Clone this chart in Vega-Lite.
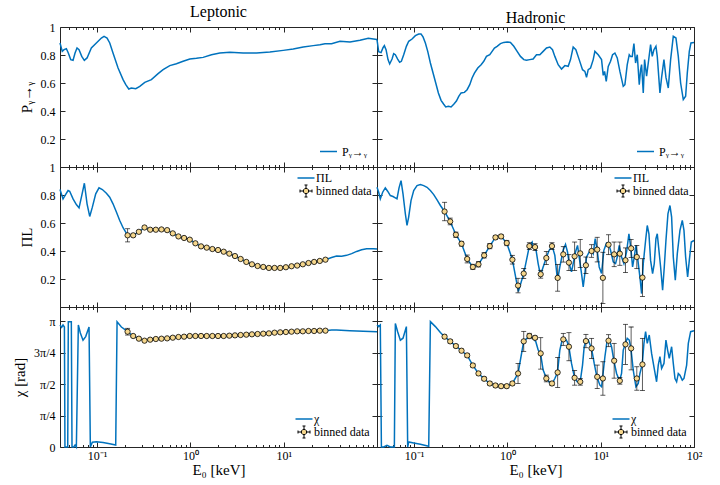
{
"$schema": "https://vega.github.io/schema/vega-lite/v6.json",
"background": "white",
"padding": {"left": 12, "top": 3, "right": 0, "bottom": 0},
"config": {
 "font": "Liberation Serif",
 "view": {"stroke": "#262626", "strokeWidth": 1},
 "axis": {"grid": false, "domain": false, "tickColor": "#262626", "tickWidth": 1, "labelColor": "black", "labelFontSize": 12, "titleFontSize": 15, "titleFontWeight": "normal", "titleColor": "black", "labelFlush": false, "labelOverlap": false},
 "legend": {"labelFontSize": 12, "labelColor": "black", "padding": 0, "rowPadding": -1, "symbolStrokeWidth": 1.5},
 "title": {"fontSize": 16, "fontWeight": "normal", "color": "black", "offset": 1}
},
"datasets": {
 "lineTL": [{"E":0.04,"v":0.886},{"E":0.0423,"v":0.826},{"E":0.0442,"v":0.838},{"E":0.0468,"v":0.845},{"E":0.0491,"v":0.814},{"E":0.0521,"v":0.767},{"E":0.0552,"v":0.762},{"E":0.058,"v":0.814},{"E":0.0609,"v":0.85},{"E":0.064,"v":0.838},{"E":0.0684,"v":0.79},{"E":0.0729,"v":0.762},{"E":0.078,"v":0.779},{"E":0.0867,"v":0.85},{"E":0.0981,"v":0.886},{"E":0.111,"v":0.921},{"E":0.1186,"v":0.933},{"E":0.1278,"v":0.921},{"E":0.1366,"v":0.886},{"E":0.148,"v":0.814},{"E":0.1677,"v":0.707},{"E":0.1897,"v":0.624},{"E":0.2028,"v":0.588},{"E":0.2184,"v":0.557},{"E":0.2328,"v":0.564},{"E":0.2596,"v":0.559},{"E":0.2866,"v":0.576},{"E":0.3242,"v":0.605},{"E":0.3816,"v":0.624},{"E":0.4504,"v":0.667},{"E":0.5096,"v":0.695},{"E":0.601,"v":0.724},{"E":0.708,"v":0.738},{"E":0.835,"v":0.755},{"E":0.986,"v":0.771},{"E":1.16,"v":0.776},{"E":1.369,"v":0.783},{"E":1.681,"v":0.802},{"E":2.068,"v":0.814},{"E":2.648,"v":0.819},{"E":3.677,"v":0.814},{"E":5.108,"v":0.814},{"E":7.112,"v":0.821},{"E":9.88,"v":0.833},{"E":12.65,"v":0.843},{"E":16.19,"v":0.857},{"E":20.73,"v":0.867},{"E":24.47,"v":0.874},{"E":27.68,"v":0.881},{"E":32.58,"v":0.881},{"E":40.1,"v":0.898},{"E":51.34,"v":0.893},{"E":65.7,"v":0.905},{"E":80.7,"v":0.919},{"E":100,"v":0.91}],
 "lineTR": [{"E":0.04,"v":0.91},{"E":0.0417,"v":0.824},{"E":0.0442,"v":0.817},{"E":0.0464,"v":0.852},{"E":0.048,"v":0.867},{"E":0.05,"v":0.838},{"E":0.0525,"v":0.767},{"E":0.0547,"v":0.736},{"E":0.058,"v":0.771},{"E":0.0604,"v":0.81},{"E":0.0629,"v":0.802},{"E":0.0666,"v":0.771},{"E":0.07,"v":0.748},{"E":0.073,"v":0.755},{"E":0.0773,"v":0.802},{"E":0.0826,"v":0.862},{"E":0.0875,"v":0.898},{"E":0.095,"v":0.914},{"E":0.1031,"v":0.938},{"E":0.112,"v":0.95},{"E":0.1186,"v":0.95},{"E":0.1246,"v":0.929},{"E":0.132,"v":0.886},{"E":0.1399,"v":0.826},{"E":0.1494,"v":0.743},{"E":0.1596,"v":0.671},{"E":0.1705,"v":0.6},{"E":0.182,"v":0.529},{"E":0.1944,"v":0.476},{"E":0.2077,"v":0.448},{"E":0.2182,"v":0.429},{"E":0.233,"v":0.433},{"E":0.2489,"v":0.429},{"E":0.2658,"v":0.448},{"E":0.284,"v":0.471},{"E":0.3008,"v":0.505},{"E":0.3186,"v":0.529},{"E":0.346,"v":0.533},{"E":0.3697,"v":0.552},{"E":0.3948,"v":0.588},{"E":0.418,"v":0.636},{"E":0.4429,"v":0.671},{"E":0.481,"v":0.707},{"E":0.5225,"v":0.731},{"E":0.558,"v":0.755},{"E":0.596,"v":0.79},{"E":0.647,"v":0.802},{"E":0.6855,"v":0.826},{"E":0.726,"v":0.85},{"E":0.7757,"v":0.862},{"E":0.842,"v":0.881},{"E":0.914,"v":0.89},{"E":0.993,"v":0.893},{"E":1.078,"v":0.89},{"E":1.171,"v":0.862},{"E":1.271,"v":0.826},{"E":1.38,"v":0.79},{"E":1.499,"v":0.767},{"E":1.601,"v":0.762},{"E":1.738,"v":0.767},{"E":1.887,"v":0.771},{"E":2.049,"v":0.802},{"E":2.226,"v":0.802},{"E":2.416,"v":0.826},{"E":2.624,"v":0.85},{"E":2.849,"v":0.857},{"E":3.043,"v":0.838},{"E":3.224,"v":0.79},{"E":3.5,"v":0.731},{"E":3.801,"v":0.7},{"E":4.127,"v":0.724},{"E":4.481,"v":0.719},{"E":4.747,"v":0.767},{"E":5.07,"v":0.857},{"E":5.415,"v":0.838},{"E":5.881,"v":0.767},{"E":6.384,"v":0.695},{"E":6.764,"v":0.683},{"E":7.047,"v":0.64},{"E":7.344,"v":0.695},{"E":7.78,"v":0.707},{"E":8.311,"v":0.767},{"E":8.661,"v":0.826},{"E":9.401,"v":0.802},{"E":10.21,"v":0.767},{"E":10.64,"v":0.655},{"E":11.0,"v":0.683},{"E":11.46,"v":0.612},{"E":12.04,"v":0.719},{"E":12.75,"v":0.755},{"E":13.4,"v":0.802},{"E":14.2,"v":0.814},{"E":15.04,"v":0.779},{"E":16.06,"v":0.683},{"E":17.44,"v":0.576},{"E":18.17,"v":0.588},{"E":19.25,"v":0.731},{"E":20.23,"v":0.802},{"E":20.9,"v":0.79},{"E":21.78,"v":0.79},{"E":22.7,"v":0.881},{"E":23.65,"v":0.743},{"E":24.65,"v":0.802},{"E":25.9,"v":0.588},{"E":26.77,"v":0.695},{"E":27.43,"v":0.731},{"E":28.59,"v":0.529},{"E":29.54,"v":0.767},{"E":31.03,"v":0.648},{"E":32.34,"v":0.743},{"E":34.25,"v":0.874},{"E":35.69,"v":0.79},{"E":37.2,"v":0.838},{"E":39.08,"v":0.862},{"E":40.39,"v":0.79},{"E":43.14,"v":0.529},{"E":44.96,"v":0.64},{"E":47.63,"v":0.767},{"E":50.04,"v":0.64},{"E":53.01,"v":0.564},{"E":56.15,"v":0.767},{"E":59.98,"v":0.933},{"E":64.07,"v":0.921},{"E":67.86,"v":0.79},{"E":71.88,"v":0.6},{"E":76.78,"v":0.481},{"E":81.33,"v":0.505},{"E":84.75,"v":0.671},{"E":89.04,"v":0.826},{"E":92.79,"v":0.886},{"E":100,"v":0.89}],
 "lineML": [{"E":0.04,"v":0.839},{"E":0.0431,"v":0.772},{"E":0.0452,"v":0.796},{"E":0.0488,"v":0.832},{"E":0.0508,"v":0.827},{"E":0.0552,"v":0.772},{"E":0.0599,"v":0.732},{"E":0.064,"v":0.708},{"E":0.0684,"v":0.796},{"E":0.073,"v":0.884},{"E":0.078,"v":0.737},{"E":0.0833,"v":0.647},{"E":0.0889,"v":0.713},{"E":0.0966,"v":0.808},{"E":0.1048,"v":0.851},{"E":0.1138,"v":0.839},{"E":0.1257,"v":0.813},{"E":0.1364,"v":0.784},{"E":0.148,"v":0.737},{"E":0.1609,"v":0.678},{"E":0.1747,"v":0.618},{"E":0.1897,"v":0.566},{"E":0.2026,"v":0.535},{"E":0.212,"v":0.512},{"E":0.2436,"v":0.512},{"E":0.2803,"v":0.537},{"E":0.3222,"v":0.568},{"E":0.3704,"v":0.552},{"E":0.4259,"v":0.552},{"E":0.4896,"v":0.554},{"E":0.5629,"v":0.549},{"E":0.6473,"v":0.526},{"E":0.7441,"v":0.504},{"E":0.8555,"v":0.493},{"E":0.9838,"v":0.481},{"E":1.131,"v":0.455},{"E":1.3,"v":0.433},{"E":1.495,"v":0.424},{"E":1.719,"v":0.414},{"E":1.977,"v":0.407},{"E":2.273,"v":0.395},{"E":2.613,"v":0.381},{"E":3.004,"v":0.364},{"E":3.454,"v":0.343},{"E":3.972,"v":0.322},{"E":4.566,"v":0.305},{"E":5.25,"v":0.293},{"E":6.036,"v":0.286},{"E":6.94,"v":0.279},{"E":7.979,"v":0.279},{"E":9.174,"v":0.279},{"E":10.55,"v":0.284},{"E":12.13,"v":0.291},{"E":13.94,"v":0.296},{"E":16.03,"v":0.305},{"E":18.43,"v":0.314},{"E":21.19,"v":0.322},{"E":24.37,"v":0.329},{"E":28.02,"v":0.338},{"E":32.6,"v":0.353},{"E":36.9,"v":0.364},{"E":41.8,"v":0.362},{"E":47.2,"v":0.369},{"E":53.5,"v":0.381},{"E":60.5,"v":0.397},{"E":68.4,"v":0.409},{"E":77.4,"v":0.416},{"E":91.3,"v":0.416},{"E":100,"v":0.414}],
 "lineMR": [{"E":0.04,"v":0.855},{"E":0.0417,"v":0.82},{"E":0.0434,"v":0.772},{"E":0.046,"v":0.82},{"E":0.0491,"v":0.851},{"E":0.052,"v":0.827},{"E":0.0556,"v":0.796},{"E":0.0594,"v":0.789},{"E":0.0629,"v":0.779},{"E":0.0655,"v":0.772},{"E":0.0689,"v":0.851},{"E":0.0724,"v":0.903},{"E":0.076,"v":0.808},{"E":0.0805,"v":0.666},{"E":0.0839,"v":0.583},{"E":0.0874,"v":0.642},{"E":0.0926,"v":0.76},{"E":0.099,"v":0.832},{"E":0.1074,"v":0.867},{"E":0.1167,"v":0.874},{"E":0.1267,"v":0.867},{"E":0.1375,"v":0.855},{"E":0.1493,"v":0.832},{"E":0.1622,"v":0.803},{"E":0.1761,"v":0.765},{"E":0.1912,"v":0.725},{"E":0.212,"v":0.682},{"E":0.2436,"v":0.611},{"E":0.2803,"v":0.516},{"E":0.3222,"v":0.452},{"E":0.3704,"v":0.343},{"E":0.4259,"v":0.286},{"E":0.4896,"v":0.305},{"E":0.5629,"v":0.369},{"E":0.6473,"v":0.435},{"E":0.7441,"v":0.497},{"E":0.8555,"v":0.504},{"E":0.9838,"v":0.457},{"E":1.131,"v":0.338},{"E":1.31,"v":0.11},{"E":1.495,"v":0.239},{"E":1.719,"v":0.435},{"E":1.841,"v":0.464},{"E":1.887,"v":0.428},{"E":2.016,"v":0.417},{"E":2.135,"v":0.31},{"E":2.262,"v":0.227},{"E":2.416,"v":0.286},{"E":2.624,"v":0.357},{"E":2.803,"v":0.405},{"E":3.018,"v":0.435},{"E":3.224,"v":0.369},{"E":3.443,"v":0.191},{"E":3.647,"v":0.286},{"E":3.96,"v":0.405},{"E":4.195,"v":0.447},{"E":4.408,"v":0.393},{"E":4.593,"v":0.31},{"E":4.866,"v":0.251},{"E":5.07,"v":0.31},{"E":5.37,"v":0.393},{"E":5.643,"v":0.44},{"E":5.881,"v":0.357},{"E":6.23,"v":0.239},{"E":6.493,"v":0.144},{"E":6.764,"v":0.239},{"E":7.047,"v":0.357},{"E":7.526,"v":0.393},{"E":7.976,"v":0.405},{"E":8.311,"v":0.381},{"E":8.73,"v":0.488},{"E":9.173,"v":0.405},{"E":9.637,"v":0.286},{"E":10.21,"v":0.239},{"E":10.81,"v":0.405},{"E":11.55,"v":0.457},{"E":12.14,"v":0.452},{"E":12.75,"v":0.405},{"E":13.62,"v":0.322},{"E":14.43,"v":0.31},{"E":15.04,"v":0.357},{"E":15.8,"v":0.44},{"E":16.73,"v":0.357},{"E":17.73,"v":0.31},{"E":18.93,"v":0.393},{"E":20.06,"v":0.523},{"E":21.07,"v":0.417},{"E":21.96,"v":0.286},{"E":22.88,"v":0.357},{"E":23.85,"v":0.44},{"E":25.05,"v":0.333},{"E":26.32,"v":0.214},{"E":27.43,"v":0.096},{"E":28.59,"v":0.31},{"E":30.28,"v":0.475},{"E":31.55,"v":0.582},{"E":32.88,"v":0.523},{"E":34.25,"v":0.333},{"E":35.99,"v":0.239},{"E":37.51,"v":0.31},{"E":39.08,"v":0.488},{"E":40.39,"v":0.523},{"E":41.74,"v":0.428},{"E":43.86,"v":0.286},{"E":46.08,"v":0.12},{"E":48.02,"v":0.286},{"E":50.04,"v":0.475},{"E":52.57,"v":0.665},{"E":55.24,"v":0.725},{"E":57.56,"v":0.642},{"E":59.98,"v":0.357},{"E":63.02,"v":0.191},{"E":66.22,"v":0.381},{"E":70.71,"v":0.547},{"E":74.91,"v":0.618},{"E":78.07,"v":0.547},{"E":81.33,"v":0.357},{"E":85.45,"v":0.214},{"E":89.04,"v":0.333},{"E":93.56,"v":0.464},{"E":100,"v":0.475}],
 "lineBL": [{"E":0.04,"v":3.05},{"E":0.0417,"v":2.99},{"E":0.0431,"v":3.05},{"E":0.0446,"v":3.0},{"E":0.0452,"v":0.0},{"E":0.0466,"v":0.0},{"E":0.0484,"v":0.0},{"E":0.0491,"v":3.134},{"E":0.0529,"v":3.134},{"E":0.0538,"v":0.0},{"E":0.0561,"v":0.0},{"E":0.058,"v":0.05},{"E":0.0599,"v":0.0},{"E":0.0629,"v":3.05},{"E":0.0661,"v":2.85},{"E":0.0706,"v":2.67},{"E":0.0754,"v":2.76},{"E":0.0819,"v":3.0},{"E":0.0846,"v":0.0},{"E":0.0889,"v":0.12},{"E":0.0982,"v":0.13},{"E":0.1157,"v":0.11},{"E":0.1364,"v":0.08},{"E":0.1582,"v":0.05},{"E":0.1636,"v":3.13},{"E":0.182,"v":3.0},{"E":0.2026,"v":2.92},{"E":0.212,"v":2.883},{"E":0.2436,"v":2.775},{"E":0.2803,"v":2.708},{"E":0.3222,"v":2.658},{"E":0.3704,"v":2.683},{"E":0.4259,"v":2.7},{"E":0.4896,"v":2.708},{"E":0.5629,"v":2.716},{"E":0.6473,"v":2.733},{"E":0.7441,"v":2.75},{"E":0.8555,"v":2.758},{"E":0.9838,"v":2.775},{"E":1.131,"v":2.775},{"E":1.3,"v":2.775},{"E":1.495,"v":2.775},{"E":1.719,"v":2.775},{"E":1.977,"v":2.775},{"E":2.273,"v":2.775},{"E":2.613,"v":2.783},{"E":3.004,"v":2.791},{"E":3.454,"v":2.8},{"E":3.972,"v":2.808},{"E":4.566,"v":2.817},{"E":5.25,"v":2.825},{"E":6.036,"v":2.833},{"E":6.94,"v":2.841},{"E":7.979,"v":2.858},{"E":9.174,"v":2.867},{"E":10.55,"v":2.875},{"E":12.13,"v":2.883},{"E":13.94,"v":2.892},{"E":16.03,"v":2.892},{"E":18.43,"v":2.9},{"E":21.19,"v":2.9},{"E":24.37,"v":2.908},{"E":28.02,"v":2.908},{"E":32.6,"v":2.925},{"E":36.9,"v":2.925},{"E":51.3,"v":2.908},{"E":71.3,"v":2.892},{"E":100,"v":2.883}],
 "lineBR": [{"E":0.04,"v":3.05},{"E":0.0417,"v":3.01},{"E":0.0434,"v":3.05},{"E":0.0446,"v":0.0},{"E":0.0472,"v":0.0},{"E":0.0512,"v":0.04},{"E":0.0556,"v":0.0},{"E":0.0614,"v":0.0},{"E":0.0629,"v":3.09},{"E":0.0666,"v":2.88},{"E":0.0712,"v":2.67},{"E":0.076,"v":2.72},{"E":0.0826,"v":3.01},{"E":0.0853,"v":0.0},{"E":0.0875,"v":0.125},{"E":0.099,"v":0.1},{"E":0.1167,"v":0.067},{"E":0.1434,"v":0.017},{"E":0.1494,"v":3.134},{"E":0.169,"v":3.01},{"E":0.1912,"v":2.86},{"E":0.212,"v":2.758},{"E":0.2436,"v":2.641},{"E":0.2803,"v":2.524},{"E":0.3222,"v":2.407},{"E":0.3704,"v":2.29},{"E":0.4259,"v":2.039},{"E":0.4896,"v":1.839},{"E":0.5629,"v":1.705},{"E":0.6473,"v":1.588},{"E":0.7441,"v":1.538},{"E":0.8555,"v":1.521},{"E":0.9838,"v":1.521},{"E":1.131,"v":1.588},{"E":1.3,"v":1.839},{"E":1.495,"v":2.641},{"E":1.719,"v":2.775},{"E":1.887,"v":2.716},{"E":2.016,"v":2.633},{"E":2.135,"v":2.424},{"E":2.262,"v":2.34},{"E":2.416,"v":1.922},{"E":2.624,"v":1.713},{"E":2.848,"v":1.605},{"E":3.018,"v":1.588},{"E":3.224,"v":1.713},{"E":3.443,"v":1.864},{"E":3.647,"v":2.424},{"E":3.895,"v":2.716},{"E":4.127,"v":2.716},{"E":4.371,"v":2.633},{"E":4.555,"v":2.507},{"E":4.866,"v":2.089},{"E":5.24,"v":1.73},{"E":5.597,"v":1.63},{"E":6.026,"v":1.63},{"E":6.384,"v":2.048},{"E":6.653,"v":2.507},{"E":6.934,"v":2.649},{"E":7.344,"v":2.674},{"E":7.976,"v":2.465},{"E":8.517,"v":2.089},{"E":9.097,"v":1.755},{"E":9.797,"v":1.546},{"E":10.21,"v":1.506},{"E":10.46,"v":1.713},{"E":11.09,"v":2.257},{"E":11.74,"v":2.674},{"E":12.34,"v":2.674},{"E":13.07,"v":2.507},{"E":13.85,"v":2.156},{"E":14.79,"v":1.839},{"E":15.93,"v":1.655},{"E":16.73,"v":1.839},{"E":17.44,"v":2.424},{"E":18.32,"v":2.566},{"E":19.25,"v":2.716},{"E":20.23,"v":2.674},{"E":21.07,"v":2.465},{"E":22.33,"v":1.922},{"E":23.85,"v":1.504},{"E":25.26,"v":1.588},{"E":26.32,"v":1.839},{"E":27.88,"v":2.064},{"E":29.06,"v":2.591},{"E":30.28,"v":2.883},{"E":31.55,"v":2.591},{"E":33.14,"v":2.8},{"E":35.12,"v":2.34},{"E":37.2,"v":2.006},{"E":39.72,"v":1.63},{"E":41.4,"v":2.048},{"E":43.14,"v":2.257},{"E":44.96,"v":1.964},{"E":47.63,"v":2.089},{"E":50.04,"v":2.674},{"E":52.14,"v":2.424},{"E":54.33,"v":2.215},{"E":57.56,"v":2.507},{"E":59.98,"v":2.089},{"E":62.51,"v":1.713},{"E":65.13,"v":1.63},{"E":67.86,"v":1.839},{"E":70.71,"v":1.797},{"E":74.91,"v":1.672},{"E":78.07,"v":1.713},{"E":83.39,"v":2.048},{"E":86.9,"v":2.591},{"E":92.05,"v":2.883},{"E":100,"v":2.908}],
 "binML": [{"E":0.212,"v":0.512,"lo":0.465,"hi":0.559},{"E":0.2436,"v":0.512,"lo":0.502,"hi":0.522},{"E":0.2803,"v":0.537,"lo":0.529,"hi":0.545},{"E":0.3222,"v":0.568,"lo":0.56,"hi":0.576},{"E":0.3704,"v":0.552,"lo":0.546,"hi":0.558},{"E":0.4259,"v":0.552,"lo":0.546,"hi":0.558},{"E":0.4896,"v":0.554,"lo":0.548,"hi":0.56},{"E":0.5629,"v":0.549,"lo":0.543,"hi":0.555},{"E":0.6473,"v":0.526,"lo":0.52,"hi":0.532},{"E":0.7441,"v":0.504,"lo":0.498,"hi":0.51},{"E":0.8555,"v":0.493,"lo":0.487,"hi":0.499},{"E":0.9838,"v":0.481,"lo":0.475,"hi":0.487},{"E":1.131,"v":0.455,"lo":0.449,"hi":0.461},{"E":1.3,"v":0.433,"lo":0.427,"hi":0.439},{"E":1.495,"v":0.424,"lo":0.418,"hi":0.43},{"E":1.719,"v":0.414,"lo":0.408,"hi":0.42},{"E":1.977,"v":0.407,"lo":0.401,"hi":0.413},{"E":2.273,"v":0.395,"lo":0.389,"hi":0.401},{"E":2.613,"v":0.381,"lo":0.375,"hi":0.387},{"E":3.004,"v":0.364,"lo":0.358,"hi":0.37},{"E":3.454,"v":0.343,"lo":0.337,"hi":0.349},{"E":3.972,"v":0.322,"lo":0.316,"hi":0.328},{"E":4.566,"v":0.305,"lo":0.299,"hi":0.311},{"E":5.25,"v":0.293,"lo":0.287,"hi":0.299},{"E":6.036,"v":0.286,"lo":0.28,"hi":0.292},{"E":6.94,"v":0.279,"lo":0.273,"hi":0.285},{"E":7.979,"v":0.279,"lo":0.273,"hi":0.285},{"E":9.174,"v":0.279,"lo":0.273,"hi":0.285},{"E":10.55,"v":0.284,"lo":0.278,"hi":0.29},{"E":12.13,"v":0.291,"lo":0.285,"hi":0.297},{"E":13.94,"v":0.296,"lo":0.29,"hi":0.302},{"E":16.03,"v":0.305,"lo":0.299,"hi":0.311},{"E":18.43,"v":0.314,"lo":0.308,"hi":0.32},{"E":21.19,"v":0.322,"lo":0.316,"hi":0.328},{"E":24.37,"v":0.329,"lo":0.323,"hi":0.335},{"E":28.02,"v":0.338,"lo":0.332,"hi":0.344}],
 "binMR": [{"E":0.212,"v":0.682,"lo":0.616,"hi":0.748},{"E":0.2436,"v":0.611,"lo":0.587,"hi":0.635},{"E":0.2803,"v":0.516,"lo":0.497,"hi":0.535},{"E":0.3222,"v":0.452,"lo":0.435,"hi":0.469},{"E":0.3704,"v":0.343,"lo":0.315,"hi":0.371},{"E":0.4259,"v":0.286,"lo":0.267,"hi":0.305},{"E":0.4896,"v":0.305,"lo":0.286,"hi":0.324},{"E":0.5629,"v":0.369,"lo":0.35,"hi":0.388},{"E":0.6473,"v":0.435,"lo":0.416,"hi":0.454},{"E":0.7441,"v":0.497,"lo":0.483,"hi":0.511},{"E":0.8555,"v":0.504,"lo":0.49,"hi":0.518},{"E":0.9838,"v":0.457,"lo":0.438,"hi":0.476},{"E":1.131,"v":0.338,"lo":0.307,"hi":0.369},{"E":1.3,"v":0.153,"lo":0.101,"hi":0.205},{"E":1.495,"v":0.239,"lo":0.203,"hi":0.275},{"E":1.719,"v":0.435,"lo":0.411,"hi":0.459},{"E":1.977,"v":0.428,"lo":0.404,"hi":0.452},{"E":2.273,"v":0.234,"lo":0.206,"hi":0.262},{"E":2.613,"v":0.35,"lo":0.303,"hi":0.397},{"E":3.004,"v":0.435,"lo":0.411,"hi":0.459},{"E":3.454,"v":0.208,"lo":0.113,"hi":0.303},{"E":3.972,"v":0.376,"lo":0.321,"hi":0.431},{"E":4.566,"v":0.317,"lo":0.26,"hi":0.374},{"E":5.25,"v":0.362,"lo":0.26,"hi":0.464},{"E":6.036,"v":0.383,"lo":0.283,"hi":0.483},{"E":6.94,"v":0.298,"lo":0.239,"hi":0.357},{"E":7.979,"v":0.4,"lo":0.355,"hi":0.445},{"E":9.174,"v":0.41,"lo":0.322,"hi":0.498},{"E":10.55,"v":0.208,"lo":0.025,"hi":0.391},{"E":12.13,"v":0.445,"lo":0.374,"hi":0.516},{"E":13.94,"v":0.376,"lo":0.288,"hi":0.464},{"E":16.03,"v":0.381,"lo":0.298,"hi":0.464},{"E":18.43,"v":0.334,"lo":0.246,"hi":0.422},{"E":21.19,"v":0.419,"lo":0.355,"hi":0.483},{"E":24.37,"v":0.357,"lo":0.274,"hi":0.44},{"E":28.02,"v":0.21,"lo":0.075,"hi":0.345}],
 "binBL": [{"E":0.212,"v":2.883,"lo":2.799,"hi":2.967},{"E":0.2436,"v":2.775,"lo":2.755,"hi":2.795},{"E":0.2803,"v":2.708,"lo":2.688,"hi":2.728},{"E":0.3222,"v":2.658,"lo":2.638,"hi":2.678},{"E":0.3704,"v":2.683,"lo":2.663,"hi":2.703},{"E":0.4259,"v":2.7,"lo":2.68,"hi":2.72},{"E":0.4896,"v":2.708,"lo":2.688,"hi":2.728},{"E":0.5629,"v":2.716,"lo":2.696,"hi":2.736},{"E":0.6473,"v":2.733,"lo":2.713,"hi":2.753},{"E":0.7441,"v":2.75,"lo":2.73,"hi":2.77},{"E":0.8555,"v":2.758,"lo":2.738,"hi":2.778},{"E":0.9838,"v":2.775,"lo":2.755,"hi":2.795},{"E":1.131,"v":2.775,"lo":2.755,"hi":2.795},{"E":1.3,"v":2.775,"lo":2.755,"hi":2.795},{"E":1.495,"v":2.775,"lo":2.755,"hi":2.795},{"E":1.719,"v":2.775,"lo":2.755,"hi":2.795},{"E":1.977,"v":2.775,"lo":2.755,"hi":2.795},{"E":2.273,"v":2.775,"lo":2.755,"hi":2.795},{"E":2.613,"v":2.783,"lo":2.763,"hi":2.803},{"E":3.004,"v":2.791,"lo":2.771,"hi":2.811},{"E":3.454,"v":2.8,"lo":2.78,"hi":2.82},{"E":3.972,"v":2.808,"lo":2.788,"hi":2.828},{"E":4.566,"v":2.817,"lo":2.797,"hi":2.837},{"E":5.25,"v":2.825,"lo":2.805,"hi":2.845},{"E":6.036,"v":2.833,"lo":2.813,"hi":2.853},{"E":6.94,"v":2.841,"lo":2.821,"hi":2.861},{"E":7.979,"v":2.858,"lo":2.838,"hi":2.878},{"E":9.174,"v":2.867,"lo":2.847,"hi":2.887},{"E":10.55,"v":2.875,"lo":2.855,"hi":2.895},{"E":12.13,"v":2.883,"lo":2.863,"hi":2.903},{"E":13.94,"v":2.892,"lo":2.872,"hi":2.912},{"E":16.03,"v":2.892,"lo":2.872,"hi":2.912},{"E":18.43,"v":2.9,"lo":2.88,"hi":2.92},{"E":21.19,"v":2.9,"lo":2.88,"hi":2.92},{"E":24.37,"v":2.908,"lo":2.888,"hi":2.928},{"E":28.02,"v":2.908,"lo":2.888,"hi":2.928}],
 "binBR": [{"E":0.212,"v":2.758,"lo":2.716,"hi":2.8},{"E":0.2436,"v":2.641,"lo":2.599,"hi":2.683},{"E":0.2803,"v":2.524,"lo":2.482,"hi":2.566},{"E":0.3222,"v":2.407,"lo":2.365,"hi":2.449},{"E":0.3704,"v":2.29,"lo":2.248,"hi":2.332},{"E":0.4259,"v":2.039,"lo":1.997,"hi":2.081},{"E":0.4896,"v":1.839,"lo":1.797,"hi":1.881},{"E":0.5629,"v":1.705,"lo":1.663,"hi":1.747},{"E":0.6473,"v":1.588,"lo":1.546,"hi":1.63},{"E":0.7441,"v":1.538,"lo":1.496,"hi":1.58},{"E":0.8555,"v":1.521,"lo":1.479,"hi":1.563},{"E":0.9838,"v":1.521,"lo":1.479,"hi":1.563},{"E":1.131,"v":1.588,"lo":1.546,"hi":1.63},{"E":1.3,"v":1.839,"lo":1.589,"hi":2.089},{"E":1.495,"v":2.641,"lo":2.391,"hi":2.891},{"E":1.719,"v":2.775,"lo":2.708,"hi":2.842},{"E":1.977,"v":2.73,"lo":2.688,"hi":2.772},{"E":2.273,"v":2.34,"lo":1.947,"hi":2.733},{"E":2.613,"v":1.713,"lo":1.629,"hi":1.797},{"E":3.004,"v":1.588,"lo":1.538,"hi":1.638},{"E":3.454,"v":1.864,"lo":1.488,"hi":2.24},{"E":3.972,"v":2.691,"lo":2.541,"hi":2.841},{"E":4.566,"v":2.507,"lo":2.156,"hi":2.858},{"E":5.25,"v":1.73,"lo":1.546,"hi":1.914},{"E":6.036,"v":1.63,"lo":1.546,"hi":1.714},{"E":6.94,"v":2.649,"lo":2.482,"hi":2.816},{"E":7.979,"v":2.465,"lo":2.214,"hi":2.716},{"E":9.174,"v":1.755,"lo":1.462,"hi":2.048},{"E":10.55,"v":1.713,"lo":1.295,"hi":2.131},{"E":12.13,"v":2.658,"lo":2.508,"hi":2.808},{"E":13.94,"v":2.156,"lo":1.721,"hi":2.591},{"E":16.03,"v":1.655,"lo":1.571,"hi":1.739},{"E":18.43,"v":2.566,"lo":2.065,"hi":3.067},{"E":21.19,"v":2.465,"lo":1.93,"hi":3.0},{"E":24.37,"v":1.713,"lo":1.42,"hi":2.006},{"E":28.02,"v":2.064,"lo":1.412,"hi":2.716}]
},
"concat": [
 {
  "width": 317, "height": 140,
  "title": {"text": "Leptonic"},
  "layer": [
   {"data": {"name": "lineTL"}, "mark": {"type": "line", "strokeWidth": 1.5},
    "encoding": {
     "x": {"field": "E", "type": "quantitative", "scale": {"type": "log", "domain": [0.04, 100], "nice": false}, "axis": {"orient": "bottom", "values": [0.1, 1, 10, 100], "tickSize": -5, "labels": false, "title": null}},
     "y": {"field": "v", "type": "quantitative", "scale": {"domain": [0, 1], "nice": false, "zero": false}, "axis": {"orient": "left", "values": [0, 0.2, 0.4, 0.6, 0.8, 1], "ticks": false, "labelPadding": 5, "labelExpr": "datum.value == 0 ? '' : datum.value == 1 ? '1' : format(datum.value, '.1f')", "title": "Pᵧ→ᵧ", "titlePadding": 6}},
     "color": {"datum": "Pᵧ→ᵧ", "scale": {"range": ["#0072BD"]}, "legend": {"orient": "bottom-right", "title": null, "symbolType": "stroke", "symbolSize": 289, "offset": 9}}
    }},
   {"data": {"name": "lineTL"}, "mark": {"type": "point", "opacity": 0},
    "encoding": {
     "x": {"field": "E", "type": "quantitative", "axis": {"orient": "bottom", "values": [0.05,0.06,0.07,0.08,0.09,0.2,0.3,0.4,0.5,0.6,0.7,0.8,0.9,2,3,4,5,6,7,8,9,20,30,40,50,60,70,80,90], "tickSize": -2.5, "labels": false, "title": null}},
     "y": {"field": "v", "type": "quantitative", "axis": {"orient": "left", "values": [0, 0.2, 0.4, 0.6, 0.8, 1], "tickSize": -5, "labels": false, "title": null}}
    }},
   {"data": {"name": "lineTL"}, "mark": {"type": "point", "opacity": 0},
    "encoding": {
     "x": {"field": "E", "type": "quantitative", "axis": {"orient": "top", "values": [0.1, 1, 10, 100], "tickSize": -5, "labels": false, "title": null}},
     "y": {"field": "v", "type": "quantitative", "axis": {"orient": "right", "values": [0, 0.2, 0.4, 0.6, 0.8, 1], "tickSize": -5, "labels": false, "title": null}}
    }},
   {"data": {"name": "lineTL"}, "mark": {"type": "point", "opacity": 0},
    "encoding": {
     "x": {"field": "E", "type": "quantitative", "axis": {"orient": "top", "values": [0.05,0.06,0.07,0.08,0.09,0.2,0.3,0.4,0.5,0.6,0.7,0.8,0.9,2,3,4,5,6,7,8,9,20,30,40,50,60,70,80,90], "tickSize": -2.5, "labels": false, "title": null}},
     "y": {"field": "v", "type": "quantitative", "axis": null}
    }}
  ],
  "resolve": {"axis": {"x": "independent", "y": "independent"}}
 },
 {
  "width": 317, "height": 140,
  "title": {"text": "Hadronic"},
  "layer": [
   {"data": {"name": "lineTR"}, "mark": {"type": "line", "strokeWidth": 1.5},
    "encoding": {
     "x": {"field": "E", "type": "quantitative", "scale": {"type": "log", "domain": [0.04, 100], "nice": false}, "axis": {"orient": "bottom", "values": [0.1, 1, 10, 100], "tickSize": -5, "labels": false, "title": null}},
     "y": {"field": "v", "type": "quantitative", "scale": {"domain": [0, 1], "nice": false, "zero": false}, "axis": {"orient": "left", "values": [0, 0.2, 0.4, 0.6, 0.8, 1], "tickSize": -5, "labels": false, "title": null}},
     "color": {"datum": "Pᵧ→ᵧ", "scale": {"range": ["#0072BD"]}, "legend": {"orient": "bottom-right", "title": null, "symbolType": "stroke", "symbolSize": 289, "offset": 9}}
    }},
   {"data": {"name": "lineTR"}, "mark": {"type": "point", "opacity": 0},
    "encoding": {
     "x": {"field": "E", "type": "quantitative", "axis": {"orient": "bottom", "values": [0.05,0.06,0.07,0.08,0.09,0.2,0.3,0.4,0.5,0.6,0.7,0.8,0.9,2,3,4,5,6,7,8,9,20,30,40,50,60,70,80,90], "tickSize": -2.5, "labels": false, "title": null}},
     "y": {"field": "v", "type": "quantitative", "axis": {"orient": "right", "values": [0, 0.2, 0.4, 0.6, 0.8, 1], "tickSize": -5, "labels": false, "title": null}}
    }},
   {"data": {"name": "lineTR"}, "mark": {"type": "point", "opacity": 0},
    "encoding": {
     "x": {"field": "E", "type": "quantitative", "axis": {"orient": "top", "values": [0.1, 1, 10, 100], "tickSize": -5, "labels": false, "title": null}},
     "y": {"field": "v", "type": "quantitative", "axis": null}
    }},
   {"data": {"name": "lineTR"}, "mark": {"type": "point", "opacity": 0},
    "encoding": {
     "x": {"field": "E", "type": "quantitative", "axis": {"orient": "top", "values": [0.05,0.06,0.07,0.08,0.09,0.2,0.3,0.4,0.5,0.6,0.7,0.8,0.9,2,3,4,5,6,7,8,9,20,30,40,50,60,70,80,90], "tickSize": -2.5, "labels": false, "title": null}},
     "y": {"field": "v", "type": "quantitative", "axis": null}
    }}
  ],
  "resolve": {"axis": {"x": "independent", "y": "independent"}}
 },
 {
  "width": 317, "height": 140,
  "layer": [
   {"data": {"name": "lineML"}, "mark": {"type": "line", "strokeWidth": 1.5},
    "encoding": {
     "x": {"field": "E", "type": "quantitative", "scale": {"type": "log", "domain": [0.04, 100], "nice": false}, "axis": {"orient": "bottom", "values": [0.1, 1, 10, 100], "tickSize": -5, "labels": false, "title": null}},
     "y": {"field": "v", "type": "quantitative", "scale": {"domain": [0, 1], "nice": false, "zero": false}, "axis": {"orient": "left", "values": [0, 0.2, 0.4, 0.6, 0.8, 1], "ticks": false, "labelPadding": 5, "labelExpr": "datum.value == 0 ? '' : datum.value == 1 ? '1' : format(datum.value, '.1f')", "title": "ΠL", "titlePadding": 6}},
     "color": {"datum": "ΠL", "scale": {"domain": ["ΠL", "binned data"], "range": ["#0072BD", "#000000"]}, "legend": {"orient": "top-right", "title": null, "offset": 5, "symbolSize": 289, "encode": {"symbols": {"update": {"shape": {"signal": "datum.value === 'binned data' ? 'M0.45,0L0.39,0.225L0.225,0.39L0,0.45L-0.225,0.39L-0.39,0.225L-0.45,0L-0.39,-0.225L-0.225,-0.39L0,-0.45L0.225,-0.39L0.39,-0.225ZM-1,0L-0.45,0M0.45,0L1,0M0,-1L0,-0.45M0,0.45L0,1M-1,-0.25L-1,0.25M1,-0.25L1,0.25M-0.25,-1L0.25,-1M-0.25,1L0.25,1' : 'stroke'"}, "fill": {"signal": "datum.value === 'binned data' ? '#F5D68C' : 'transparent'"}, "strokeWidth": {"signal": "datum.value === 'binned data' ? 1 : 1.5"}, "size": {"signal": "datum.value === 'binned data' ? 144 : 289"}, "opacity": {"value": 1}, "fillOpacity": {"value": 1}}}}}}
    }},
   {"data": {"name": "binML"}, "mark": {"type": "rule", "color": "black", "strokeWidth": 0.8, "opacity": 0.8},
    "encoding": {
     "x": {"field": "E", "type": "quantitative", "axis": {"orient": "bottom", "values": [0.05,0.06,0.07,0.08,0.09,0.2,0.3,0.4,0.5,0.6,0.7,0.8,0.9,2,3,4,5,6,7,8,9,20,30,40,50,60,70,80,90], "tickSize": -2.5, "labels": false, "title": null}},
     "y": {"field": "lo", "type": "quantitative", "axis": {"orient": "left", "values": [0, 0.2, 0.4, 0.6, 0.8, 1], "tickSize": -5, "labels": false, "title": null}},
     "y2": {"field": "hi"}
    }},
   {"data": {"name": "binML"}, "mark": {"type": "tick", "orient": "horizontal", "size": 5, "thickness": 0.8, "color": "black", "opacity": 0.8},
    "encoding": {
     "x": {"field": "E", "type": "quantitative", "axis": {"orient": "top", "values": [0.1, 1, 10, 100], "tickSize": -5, "labels": false, "title": null}},
     "y": {"field": "lo", "type": "quantitative", "axis": {"orient": "right", "values": [0, 0.2, 0.4, 0.6, 0.8, 1], "tickSize": -5, "labels": false, "title": null}}
    }},
   {"data": {"name": "binML"}, "mark": {"type": "tick", "orient": "horizontal", "size": 5, "thickness": 0.8, "color": "black", "opacity": 0.8},
    "encoding": {
     "x": {"field": "E", "type": "quantitative", "axis": {"orient": "top", "values": [0.05,0.06,0.07,0.08,0.09,0.2,0.3,0.4,0.5,0.6,0.7,0.8,0.9,2,3,4,5,6,7,8,9,20,30,40,50,60,70,80,90], "tickSize": -2.5, "labels": false, "title": null}},
     "y": {"field": "hi", "type": "quantitative", "axis": null}
    }},
   {"data": {"name": "binML"}, "mark": {"type": "point", "filled": true, "size": 28, "fill": "#F5D68C", "stroke": "black", "strokeWidth": 0.8, "opacity": 1},
    "encoding": {
     "x": {"field": "E", "type": "quantitative", "axis": null},
     "y": {"field": "v", "type": "quantitative", "axis": null}
    }}
  ],
  "resolve": {"axis": {"x": "independent", "y": "independent"}}
 },
 {
  "width": 317, "height": 140,
  "layer": [
   {"data": {"name": "lineMR"}, "mark": {"type": "line", "strokeWidth": 1.5},
    "encoding": {
     "x": {"field": "E", "type": "quantitative", "scale": {"type": "log", "domain": [0.04, 100], "nice": false}, "axis": {"orient": "bottom", "values": [0.1, 1, 10, 100], "tickSize": -5, "labels": false, "title": null}},
     "y": {"field": "v", "type": "quantitative", "scale": {"domain": [0, 1], "nice": false, "zero": false}, "axis": {"orient": "left", "values": [0, 0.2, 0.4, 0.6, 0.8, 1], "tickSize": -5, "labels": false, "title": null}},
     "color": {"datum": "ΠL", "scale": {"domain": ["ΠL", "binned data"], "range": ["#0072BD", "#000000"]}, "legend": {"orient": "top-right", "title": null, "offset": 5, "symbolSize": 289, "encode": {"symbols": {"update": {"shape": {"signal": "datum.value === 'binned data' ? 'M0.45,0L0.39,0.225L0.225,0.39L0,0.45L-0.225,0.39L-0.39,0.225L-0.45,0L-0.39,-0.225L-0.225,-0.39L0,-0.45L0.225,-0.39L0.39,-0.225ZM-1,0L-0.45,0M0.45,0L1,0M0,-1L0,-0.45M0,0.45L0,1M-1,-0.25L-1,0.25M1,-0.25L1,0.25M-0.25,-1L0.25,-1M-0.25,1L0.25,1' : 'stroke'"}, "fill": {"signal": "datum.value === 'binned data' ? '#F5D68C' : 'transparent'"}, "strokeWidth": {"signal": "datum.value === 'binned data' ? 1 : 1.5"}, "size": {"signal": "datum.value === 'binned data' ? 144 : 289"}, "opacity": {"value": 1}, "fillOpacity": {"value": 1}}}}}}
    }},
   {"data": {"name": "binMR"}, "mark": {"type": "rule", "color": "black", "strokeWidth": 0.8, "opacity": 0.8},
    "encoding": {
     "x": {"field": "E", "type": "quantitative", "axis": {"orient": "bottom", "values": [0.05,0.06,0.07,0.08,0.09,0.2,0.3,0.4,0.5,0.6,0.7,0.8,0.9,2,3,4,5,6,7,8,9,20,30,40,50,60,70,80,90], "tickSize": -2.5, "labels": false, "title": null}},
     "y": {"field": "lo", "type": "quantitative", "axis": {"orient": "right", "values": [0, 0.2, 0.4, 0.6, 0.8, 1], "tickSize": -5, "labels": false, "title": null}},
     "y2": {"field": "hi"}
    }},
   {"data": {"name": "binMR"}, "mark": {"type": "tick", "orient": "horizontal", "size": 5, "thickness": 0.8, "color": "black", "opacity": 0.8},
    "encoding": {
     "x": {"field": "E", "type": "quantitative", "axis": {"orient": "top", "values": [0.1, 1, 10, 100], "tickSize": -5, "labels": false, "title": null}},
     "y": {"field": "lo", "type": "quantitative", "axis": null}
    }},
   {"data": {"name": "binMR"}, "mark": {"type": "tick", "orient": "horizontal", "size": 5, "thickness": 0.8, "color": "black", "opacity": 0.8},
    "encoding": {
     "x": {"field": "E", "type": "quantitative", "axis": {"orient": "top", "values": [0.05,0.06,0.07,0.08,0.09,0.2,0.3,0.4,0.5,0.6,0.7,0.8,0.9,2,3,4,5,6,7,8,9,20,30,40,50,60,70,80,90], "tickSize": -2.5, "labels": false, "title": null}},
     "y": {"field": "hi", "type": "quantitative", "axis": null}
    }},
   {"data": {"name": "binMR"}, "mark": {"type": "point", "filled": true, "size": 28, "fill": "#F5D68C", "stroke": "black", "strokeWidth": 0.8, "opacity": 1},
    "encoding": {
     "x": {"field": "E", "type": "quantitative", "axis": null},
     "y": {"field": "v", "type": "quantitative", "axis": null}
    }}
  ],
  "resolve": {"axis": {"x": "independent", "y": "independent"}}
 },
 {
  "width": 317, "height": 140,
  "layer": [
   {"data": {"name": "lineBL"}, "mark": {"type": "line", "strokeWidth": 1.5},
    "encoding": {
     "x": {"field": "E", "type": "quantitative", "scale": {"type": "log", "domain": [0.04, 100], "nice": false}, "axis": {"orient": "bottom", "values": [0.1, 1, 10], "ticks": false, "labelPadding": 3, "labelExpr": "datum.value < 0.5 ? '10⁻¹' : datum.value < 5 ? '10⁰' : datum.value < 50 ? '10¹' : '10²'", "title": "E₀ [keV]", "titlePadding": 1}},
     "y": {"field": "v", "type": "quantitative", "scale": {"domain": [0, 3.5], "nice": false, "zero": false}, "axis": {"orient": "left", "values": [0, 0.7853981634, 1.5707963268, 2.3561944902, 3.1415926536], "ticks": false, "labelPadding": 5, "labelExpr": "datum.value < 0.1 ? '0' : datum.value < 1 ? 'π/4' : datum.value < 2 ? 'π/2' : datum.value < 3 ? '3π/4' : 'π'", "title": "χ [rad]", "titlePadding": 6}},
     "color": {"datum": "χ", "scale": {"domain": ["χ", "binned data"], "range": ["#0072BD", "#000000"]}, "legend": {"orient": "bottom-right", "title": null, "offset": 7, "symbolSize": 289, "encode": {"symbols": {"update": {"shape": {"signal": "datum.value === 'binned data' ? 'M0.45,0L0.39,0.225L0.225,0.39L0,0.45L-0.225,0.39L-0.39,0.225L-0.45,0L-0.39,-0.225L-0.225,-0.39L0,-0.45L0.225,-0.39L0.39,-0.225ZM-1,0L-0.45,0M0.45,0L1,0M0,-1L0,-0.45M0,0.45L0,1M-1,-0.25L-1,0.25M1,-0.25L1,0.25M-0.25,-1L0.25,-1M-0.25,1L0.25,1' : 'stroke'"}, "fill": {"signal": "datum.value === 'binned data' ? '#F5D68C' : 'transparent'"}, "strokeWidth": {"signal": "datum.value === 'binned data' ? 1 : 1.5"}, "size": {"signal": "datum.value === 'binned data' ? 144 : 289"}, "opacity": {"value": 1}, "fillOpacity": {"value": 1}}}}}}
    }},
   {"data": {"name": "binBL"}, "mark": {"type": "rule", "color": "black", "strokeWidth": 0.8, "opacity": 0.8},
    "encoding": {
     "x": {"field": "E", "type": "quantitative", "axis": {"orient": "bottom", "values": [0.1, 1, 10, 100], "tickSize": -5, "labels": false, "title": null}},
     "y": {"field": "lo", "type": "quantitative", "axis": {"orient": "left", "values": [0, 0.7853981634, 1.5707963268, 2.3561944902, 3.1415926536], "tickSize": -5, "labels": false, "title": null}},
     "y2": {"field": "hi"}
    }},
   {"data": {"name": "binBL"}, "mark": {"type": "tick", "orient": "horizontal", "size": 5, "thickness": 0.8, "color": "black", "opacity": 0.8},
    "encoding": {
     "x": {"field": "E", "type": "quantitative", "axis": {"orient": "bottom", "values": [0.05,0.06,0.07,0.08,0.09,0.2,0.3,0.4,0.5,0.6,0.7,0.8,0.9,2,3,4,5,6,7,8,9,20,30,40,50,60,70,80,90], "tickSize": -2.5, "labels": false, "title": null}},
     "y": {"field": "lo", "type": "quantitative", "axis": {"orient": "right", "values": [0, 0.7853981634, 1.5707963268, 2.3561944902, 3.1415926536], "tickSize": -5, "labels": false, "title": null}}
    }},
   {"data": {"name": "binBL"}, "mark": {"type": "tick", "orient": "horizontal", "size": 5, "thickness": 0.8, "color": "black", "opacity": 0.8},
    "encoding": {
     "x": {"field": "E", "type": "quantitative", "axis": {"orient": "top", "values": [0.1, 1, 10, 100], "tickSize": -5, "labels": false, "title": null}},
     "y": {"field": "hi", "type": "quantitative", "axis": null}
    }},
   {"data": {"name": "binBL"}, "mark": {"type": "point", "filled": true, "size": 28, "fill": "#F5D68C", "stroke": "black", "strokeWidth": 0.8, "opacity": 1},
    "encoding": {
     "x": {"field": "E", "type": "quantitative", "axis": {"orient": "top", "values": [0.05,0.06,0.07,0.08,0.09,0.2,0.3,0.4,0.5,0.6,0.7,0.8,0.9,2,3,4,5,6,7,8,9,20,30,40,50,60,70,80,90], "tickSize": -2.5, "labels": false, "title": null}},
     "y": {"field": "v", "type": "quantitative", "axis": null}
    }}
  ],
  "resolve": {"axis": {"x": "independent", "y": "independent"}}
 },
 {
  "width": 317, "height": 140,
  "layer": [
   {"data": {"name": "lineBR"}, "mark": {"type": "line", "strokeWidth": 1.5},
    "encoding": {
     "x": {"field": "E", "type": "quantitative", "scale": {"type": "log", "domain": [0.04, 100], "nice": false}, "axis": {"orient": "bottom", "values": [0.1, 1, 10, 100], "ticks": false, "labelPadding": 3, "labelExpr": "datum.value < 0.5 ? '10⁻¹' : datum.value < 5 ? '10⁰' : datum.value < 50 ? '10¹' : '10²'", "title": "E₀ [keV]", "titlePadding": 1}},
     "y": {"field": "v", "type": "quantitative", "scale": {"domain": [0, 3.5], "nice": false, "zero": false}, "axis": {"orient": "left", "values": [0, 0.7853981634, 1.5707963268, 2.3561944902, 3.1415926536], "tickSize": -5, "labels": false, "title": null}},
     "color": {"datum": "χ", "scale": {"domain": ["χ", "binned data"], "range": ["#0072BD", "#000000"]}, "legend": {"orient": "bottom-right", "title": null, "offset": 7, "symbolSize": 289, "encode": {"symbols": {"update": {"shape": {"signal": "datum.value === 'binned data' ? 'M0.45,0L0.39,0.225L0.225,0.39L0,0.45L-0.225,0.39L-0.39,0.225L-0.45,0L-0.39,-0.225L-0.225,-0.39L0,-0.45L0.225,-0.39L0.39,-0.225ZM-1,0L-0.45,0M0.45,0L1,0M0,-1L0,-0.45M0,0.45L0,1M-1,-0.25L-1,0.25M1,-0.25L1,0.25M-0.25,-1L0.25,-1M-0.25,1L0.25,1' : 'stroke'"}, "fill": {"signal": "datum.value === 'binned data' ? '#F5D68C' : 'transparent'"}, "strokeWidth": {"signal": "datum.value === 'binned data' ? 1 : 1.5"}, "size": {"signal": "datum.value === 'binned data' ? 144 : 289"}, "opacity": {"value": 1}, "fillOpacity": {"value": 1}}}}}}
    }},
   {"data": {"name": "binBR"}, "mark": {"type": "rule", "color": "black", "strokeWidth": 0.8, "opacity": 0.8},
    "encoding": {
     "x": {"field": "E", "type": "quantitative", "axis": {"orient": "bottom", "values": [0.1, 1, 10, 100], "tickSize": -5, "labels": false, "title": null}},
     "y": {"field": "lo", "type": "quantitative", "axis": {"orient": "right", "values": [0, 0.7853981634, 1.5707963268, 2.3561944902, 3.1415926536], "tickSize": -5, "labels": false, "title": null}},
     "y2": {"field": "hi"}
    }},
   {"data": {"name": "binBR"}, "mark": {"type": "tick", "orient": "horizontal", "size": 5, "thickness": 0.8, "color": "black", "opacity": 0.8},
    "encoding": {
     "x": {"field": "E", "type": "quantitative", "axis": {"orient": "bottom", "values": [0.05,0.06,0.07,0.08,0.09,0.2,0.3,0.4,0.5,0.6,0.7,0.8,0.9,2,3,4,5,6,7,8,9,20,30,40,50,60,70,80,90], "tickSize": -2.5, "labels": false, "title": null}},
     "y": {"field": "lo", "type": "quantitative", "axis": null}
    }},
   {"data": {"name": "binBR"}, "mark": {"type": "tick", "orient": "horizontal", "size": 5, "thickness": 0.8, "color": "black", "opacity": 0.8},
    "encoding": {
     "x": {"field": "E", "type": "quantitative", "axis": {"orient": "top", "values": [0.1, 1, 10, 100], "tickSize": -5, "labels": false, "title": null}},
     "y": {"field": "hi", "type": "quantitative", "axis": null}
    }},
   {"data": {"name": "binBR"}, "mark": {"type": "point", "filled": true, "size": 28, "fill": "#F5D68C", "stroke": "black", "strokeWidth": 0.8, "opacity": 1},
    "encoding": {
     "x": {"field": "E", "type": "quantitative", "axis": {"orient": "top", "values": [0.05,0.06,0.07,0.08,0.09,0.2,0.3,0.4,0.5,0.6,0.7,0.8,0.9,2,3,4,5,6,7,8,9,20,30,40,50,60,70,80,90], "tickSize": -2.5, "labels": false, "title": null}},
     "y": {"field": "v", "type": "quantitative", "axis": null}
    }}
  ],
  "resolve": {"axis": {"x": "independent", "y": "independent"}}
 }
],
"columns": 2,
"spacing": 0,
"bounds": "flush",
"resolve": {"scale": {"color": "independent"}}
}
